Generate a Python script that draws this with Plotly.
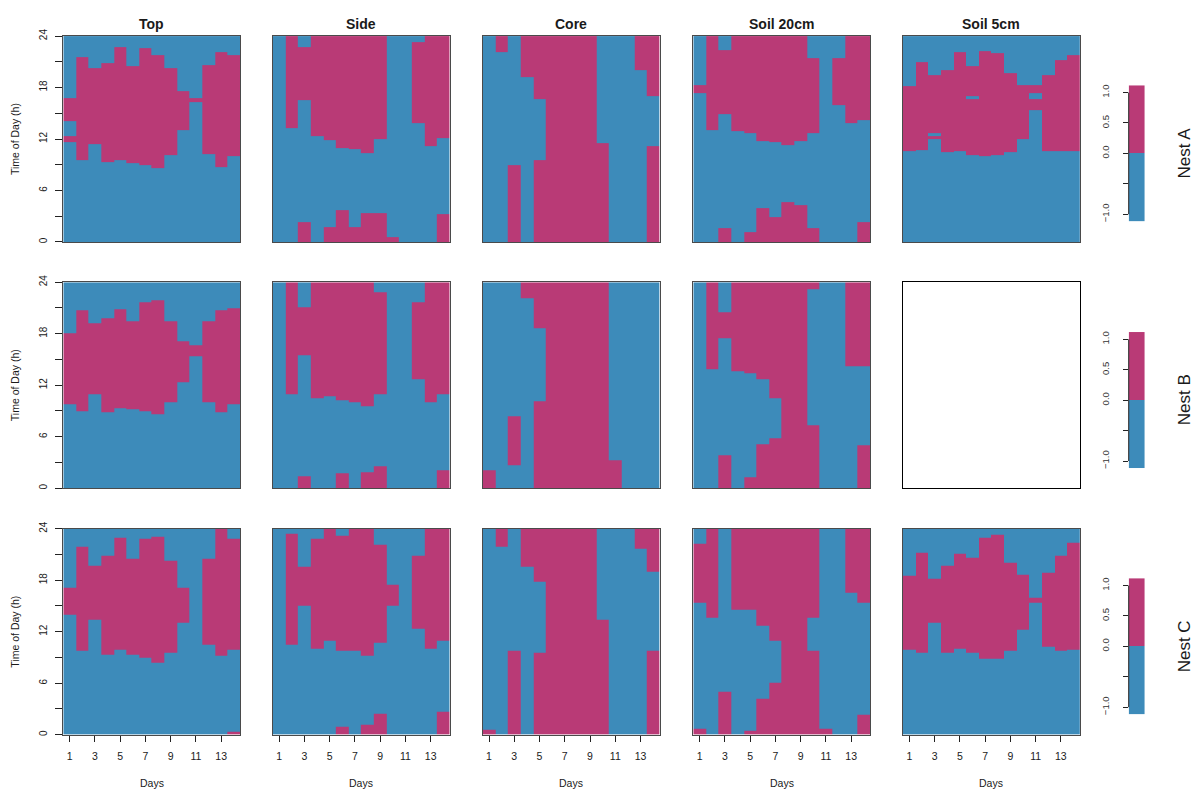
import plotly.graph_objects as go

# ---------------- data ----------------
BLUE = "#3D8BBA"
MAGENTA = "#B93A76"

DAYS = list(range(1, 15))
COL_TITLES = ["Top", "Side", "Core", "Soil 20cm", "Soil 5cm"]
ROW_TITLES = ["Nest A", "Nest B", "Nest C"]
HOUR_TICKS = [0, 3, 6, 9, 12, 15, 18, 21, 24]
HOUR_LABELS = ["0", "", "6", "", "12", "", "18", "", "24"]
DAY_TICKS = [1, 3, 5, 7, 9, 11, 13]
LEGEND_TICKS = [-1, -0.5, 0, 0.5, 1]
LEGEND_LABELS = ["\u22121.0", "", "0.0", "0.5", "1.0"]

# Hours of the day with value +1 (magenta) for each day 1..14; the rest is -1 (blue)
A_TOP = [[(11.6, 12.4), (14.1, 16.8)], [(9.6, 21.6)], [(11.4, 20.3)], [(9.3, 20.8)],
         [(9.5, 22.7)], [(9.2, 20.5)], [(9.0, 22.6)], [(8.6, 21.8)], [(10.1, 20.3)],
         [(13.0, 17.6)], [(16.3, 16.8)], [(10.3, 20.6)], [(8.7, 22.1)], [(10.0, 21.8)]]
A_SIDE = [[], [(13.3, 24)], [(0, 2.3), (16.5, 22.7)], [(12.4, 24)], [(0, 1.7), (11.9, 24)],
          [(0, 3.7), (11.0, 24)], [(0, 1.7), (10.85, 24)], [(0, 3.4), (10.35, 24)],
          [(0, 3.4), (12.0, 24)], [(0, 0.6)], [], [(13.9, 23.3)], [(11.2, 24)],
          [(0, 3.2), (12.1, 24)]]
A_CORE = [[], [(22.1, 24)], [(0, 9.0)], [(19.2, 24)], [(0, 9.6), (16.6, 24)], [(0, 24)],
          [(0, 24)], [(0, 24)], [(0, 24)], [(0, 11.5)], [], [], [(20.0, 24)],
          [(0, 11.2), (17.0, 24)]]
A_SOIL20 = [[(17.4, 18.3)], [(13.1, 24)], [(0, 1.6), (14.85, 22.4)], [(12.9, 24)],
            [(0, 1.2), (12.7, 24)], [(0, 4.0), (11.8, 24)], [(0, 2.9), (11.6, 24)],
            [(0, 4.6), (11.3, 24)], [(0, 4.3), (11.8, 24)], [(0, 1.6), (12.7, 21.4)], [],
            [(15.9, 21.4)], [(13.9, 24)], [(0, 2.3), (14.2, 24)]]
A_SOIL5 = [[(10.65, 18.2)], [(10.7, 21.0)], [(12.0, 12.3), (12.7, 19.5)], [(10.5, 20.0)],
           [(10.6, 22.1)], [(10.1, 16.7), (17.0, 20.5)], [(10.0, 22.2)], [(10.1, 22.0)],
           [(10.5, 19.7)], [(12.0, 18.3)], [(15.4, 16.7), (17.4, 18.3)], [(10.6, 19.5)],
           [(10.6, 21.2)], [(10.6, 21.8)]]

B_TOP = [[(9.8, 18.1)], [(9.0, 20.7)], [(10.9, 19.2)], [(8.9, 19.8)], [(9.3, 20.8)],
         [(9.2, 19.4)], [(9.0, 21.7)], [(8.6, 21.9)], [(10.0, 19.4)], [(12.35, 17.1)],
         [(15.35, 16.7)], [(10.0, 19.4)], [(8.9, 20.7)], [(9.8, 21.0)]]
B_SIDE = [[], [(10.9, 24)], [(0, 1.4), (15.5, 21.1)], [(10.5, 24)], [(10.7, 24)],
          [(0, 1.7), (10.3, 24)], [(10.0, 24)], [(0, 1.9), (9.5, 24)],
          [(0, 2.6), (10.9, 22.8)], [], [], [(12.65, 21.7)], [(10.0, 24)],
          [(0, 2.1), (10.9, 24)]]
B_CORE = [[(0, 2.1)], [], [(2.7, 8.35)], [(22.1, 24)], [(0, 10.15), (18.6, 24)], [(0, 24)],
          [(0, 24)], [(0, 24)], [(0, 24)], [(0, 24)], [(0, 3.2)], [], [], []]
B_SOIL20 = [[], [(13.9, 24)], [(0, 3.8), (17.5, 20.5)], [(13.6, 24)], [(0, 1.3), (13.4, 24)],
            [(0, 5.15), (12.7, 24)], [(0, 5.8), (10.5, 24)], [(0, 24)], [(0, 24)],
            [(0, 7.3), (23.2, 24)], [], [], [(14.2, 24)], [(0, 5.0), (14.2, 24)]]
B_SOIL5 = None  # no data: empty framed panel

C_TOP = [[(14.0, 17.1)], [(9.8, 21.9)], [(13.4, 19.65)], [(9.3, 20.9)], [(9.85, 23.0)],
         [(9.3, 20.5)], [(9.0, 22.8)], [(8.4, 23.1)], [(9.6, 20.3)], [(13.0, 17.1)], [],
         [(10.5, 20.5)], [(9.2, 24)], [(0, 0.3), (9.95, 22.85)]]
C_SIDE = [[], [(10.5, 23.4)], [(15.0, 19.6)], [(10.0, 22.85)], [(10.9, 24)],
          [(0, 0.9), (9.8, 23.2)], [(9.8, 24)], [(0, 1.1), (9.2, 24)],
          [(0, 2.45), (10.7, 22.1)], [(15.0, 17.5)], [], [(12.35, 20.9)], [(10.0, 24)],
          [(0, 2.65), (10.9, 24)]]
C_CORE = [[(0, 0.6)], [(21.9, 24)], [(0, 9.8)], [(19.6, 24)], [(0, 9.5), (17.85, 24)],
          [(0, 24)], [(0, 24)], [(0, 24)], [(0, 24)], [(0, 13.4)], [], [], [(21.7, 24)],
          [(0, 9.8), (19.0, 24)]]
C_SOIL20 = [[(0, 0.7), (15.35, 22.2)], [(13.6, 24)], [(0, 5.0)], [(14.5, 24)],
            [(0, 0.4), (14.5, 24)], [(0, 4.2), (12.65, 24)], [(0, 6.1), (10.9, 24)],
            [(0, 24)], [(0, 24)], [(0, 9.8), (13.6, 24)], [(0, 0.7)], [], [(16.5, 24)],
            [(0, 2.3), (15.35, 24)]]
C_SOIL5 = [[(9.9, 18.5)], [(9.5, 21.2)], [(13.1, 18.2)], [(9.6, 19.65)], [(10.0, 21.1)],
           [(9.5, 20.65)], [(8.8, 22.95)], [(8.8, 23.3)], [(9.8, 20.0)], [(12.2, 18.6)],
           [(15.35, 16.0)], [(10.3, 18.9)], [(9.8, 20.9)], [(9.9, 22.4)]]

PANELS = [[A_TOP, A_SIDE, A_CORE, A_SOIL20, A_SOIL5],
          [B_TOP, B_SIDE, B_CORE, B_SOIL20, B_SOIL5],
          [C_TOP, C_SIDE, C_CORE, C_SOIL20, C_SOIL5]]

# ---------------- layout geometry (page pixels) ----------------
OFF = 8                      # default page margin before the plot div
W, H = 1200 - OFF, 793 - OFF
PANEL_X0 = [63.3, 272.8, 482.7, 693.3, 903.0]
PANEL_W = 176.8
PANEL_Y0 = [29.3, 278.0, 527.0]
PANEL_H = 208.0
LEG_X = (1128.7, 1144.8)
LEG_Y0 = [79.0, 328.3, 577.0]
LEG_H = 137.7
FONT = "Liberation Sans, Arial, sans-serif"
TXT = "#1a1a1a"


def fx(px):
    return (px - OFF) / W


def fy(py):
    return 1 - (py - OFF) / H


def to_matrix(days):
    edges = sorted({0.0, 24.0} | {float(v) for d in days for iv in d for v in iv})
    z = []
    for lo, hi in zip(edges[:-1], edges[1:]):
        m = 0.5 * (lo + hi)
        z.append([1 if any(a <= m <= b for a, b in d) else -1 for d in days])
    return edges, z


CSCALE = [[0, BLUE], [0.5, BLUE], [0.5, MAGENTA], [1, MAGENTA]]

fig = go.Figure()
layout = dict(width=W, height=H, margin=dict(l=0, r=0, t=0, b=0),
              paper_bgcolor="white", plot_bgcolor="white", showlegend=False,
              font=dict(family=FONT, color=TXT))
annotations = []
shapes = []

for r in range(3):
    for c in range(5):
        n = r * 5 + c + 1
        xa = "xaxis" if n == 1 else f"xaxis{n}"
        ya = "yaxis" if n == 1 else f"yaxis{n}"
        xr = "x" if n == 1 else f"x{n}"
        yr = "y" if n == 1 else f"y{n}"
        data = PANELS[r][c]
        empty = data is None
        if not empty:
            edges, z = to_matrix(data)
            fig.add_trace(go.Heatmap(x=DAYS, y=edges, z=z, xaxis=xr, yaxis=yr,
                                     colorscale=CSCALE, zmin=-1, zmax=1,
                                     showscale=False, hoverinfo="skip"))
        else:
            fig.add_trace(go.Scatter(x=[None], y=[None], xaxis=xr, yaxis=yr, mode="markers",
                                     hoverinfo="skip"))
        lc = "#000000" if empty else "#4a4a4a"
        lw = 1.3 if empty else 1
        layout[xa] = dict(domain=[fx(PANEL_X0[c]), fx(PANEL_X0[c] + PANEL_W)],
                          anchor=yr, range=[0.5, 14.5], showgrid=False, zeroline=False,
                          showline=True, mirror=True, linecolor=lc, linewidth=lw,
                          tickvals=DAY_TICKS, ticks="outside" if r == 2 else "",
                          ticklen=6, tickcolor="#222", showticklabels=(r == 2),
                          tickfont=dict(size=10.5, color=TXT), ticklabelstandoff=6)
        layout[ya] = dict(domain=[fy(PANEL_Y0[r] + PANEL_H), fy(PANEL_Y0[r])],
                          anchor=xr, range=[0, 24], showgrid=False, zeroline=False,
                          showline=True, mirror=True, linecolor=lc, linewidth=lw,
                          tickvals=HOUR_TICKS, ticktext=HOUR_LABELS,
                          ticks="outside" if c == 0 else "", ticklen=7, tickcolor="#222",
                          showticklabels=(c == 0), tickangle=-90,
                          tickfont=dict(size=10, color=TXT), ticklabelstandoff=4)
        if r == 0:
            annotations.append(dict(text=f"<b>{COL_TITLES[c]}</b>", xref="paper", yref="paper",
                                    x=fx(PANEL_X0[c] + PANEL_W / 2), y=fy(17),
                                    showarrow=False, font=dict(size=14, color=TXT),
                                    xanchor="center", yanchor="middle"))
        if r == 2:
            annotations.append(dict(text="Days", xref="paper", yref="paper",
                                    x=fx(PANEL_X0[c] + PANEL_W / 2), y=fy(784),
                                    showarrow=False, font=dict(size=10.5, color=TXT),
                                    xanchor="center", yanchor="middle"))
    annotations.append(dict(text="Time of Day (h)", xref="paper", yref="paper",
                            x=fx(15), y=fy(PANEL_Y0[r] + PANEL_H / 2), textangle=-90,
                            showarrow=False, font=dict(size=10.5, color=TXT),
                            xanchor="center", yanchor="middle"))

    # legend bar for the row
    n = 16 + r
    xr, yr = f"x{n}", f"y{n}"
    fig.add_trace(go.Heatmap(x=[0, 1], y=[-1.12, 0, 1.12], z=[[-1], [1]], xaxis=xr, yaxis=yr,
                             colorscale=CSCALE, zmin=-1, zmax=1, showscale=False,
                             hoverinfo="skip"))
    layout[f"xaxis{n}"] = dict(domain=[fx(LEG_X[0]), fx(LEG_X[1])], anchor=yr, range=[0, 1],
                               visible=False)
    layout[f"yaxis{n}"] = dict(domain=[fy(LEG_Y0[r] + LEG_H), fy(LEG_Y0[r])], anchor=xr,
                               range=[-1.12, 1.12], showgrid=False, zeroline=False,
                               showline=False, tickvals=LEGEND_TICKS, ticktext=LEGEND_LABELS,
                               ticks="outside", ticklen=5, tickcolor="#222", tickangle=-90,
                               tickfont=dict(size=9.5, color="#333"), ticklabelstandoff=10)
    shapes.append(dict(type="line", xref=f"{xr} domain", yref=yr, x0=0, x1=0, y0=-1, y1=1,
                       line=dict(color="#222", width=1)))
    annotations.append(dict(text=ROW_TITLES[r], xref="paper", yref="paper", x=fx(1184),
                            y=fy(LEG_Y0[r] + LEG_H / 2), textangle=-90, showarrow=False,
                            font=dict(size=17, color=TXT), xanchor="center", yanchor="middle"))

layout["annotations"] = annotations
layout["shapes"] = shapes
fig.update_layout(**layout)
fig.write_html("out.html")
